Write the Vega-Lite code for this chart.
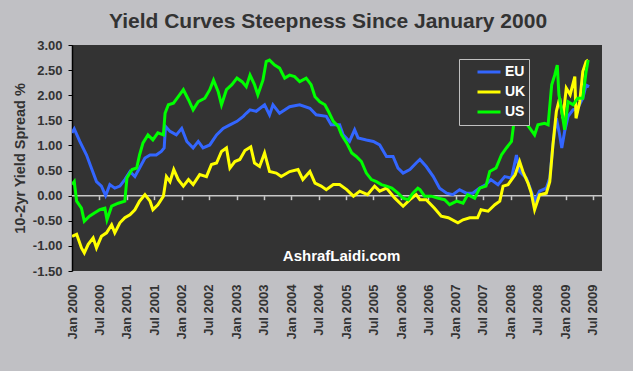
{
  "$schema": "https://vega.github.io/schema/vega-lite/v6.json",
  "width": 530,
  "height": 226,
  "autosize": {"type": "none"},
  "padding": {"left": 72, "top": 45, "right": 31, "bottom": 100},
  "background": "#c0c0c4",
  "config": {"font": "Liberation Sans", "view": {"fill": "#333333", "stroke": null}},
  "title": {"text": "Yield Curves Steepness Since January 2000", "fontSize": 21, "fontWeight": "bold", "color": "#333333", "offset": 7, "dx": -9, "anchor": "middle", "frame": "group"},
  "resolve": {"axis": {"x": "independent"}},
  "layer": [
    {
      "data": {"values": [{}]},
      "mark": {"type": "rule", "color": "#c8c8c8", "strokeWidth": 1.5},
      "encoding": {
        "y": {"datum": 0, "type": "quantitative", "title": "10-2yr Yield Spread %", "scale": {"domain": [-1.5, 3], "nice": false, "zero": false},
          "axis": {
            "values": [-1.5, -1, -0.5, 0, 0.5, 1, 1.5, 2, 2.5, 3],
            "labelExpr": "replace(format(datum.value, '.2f'), '−', '-')",
            "grid": false, "domainColor": "#000000", "domainWidth": 1.5, "tickColor": "#000000", "tickSize": 4, "labelOverlap": false,
            "labelPadding": 6, "labelFontSize": 13, "labelFontWeight": "bold", "labelColor": "#333333",
            "titleFontSize": 14.5, "titleFontWeight": "bold", "titleColor": "#333333", "titlePadding": 5
          }
        }
      }
    },
    {
      "data": {"values": [
        {"d":"2000-01-01","s":"EU","v":1.25},{"d":"2000-01-16","s":"EU","v":1.33},{"d":"2000-02-22","s":"EU","v":1.08},{"d":"2000-04-07","s":"EU","v":0.81},{"d":"2000-05-09","s":"EU","v":0.55},{"d":"2000-06-12","s":"EU","v":0.28},{"d":"2000-07-15","s":"EU","v":0.19},{"d":"2000-08-12","s":"EU","v":0.0},{"d":"2000-09-09","s":"EU","v":0.22},{"d":"2000-10-12","s":"EU","v":0.15},{"d":"2000-11-15","s":"EU","v":0.19},{"d":"2000-12-18","s":"EU","v":0.32},{"d":"2001-01-21","s":"EU","v":0.48},{"d":"2001-02-23","s":"EU","v":0.38},{"d":"2001-03-26","s":"EU","v":0.55},{"d":"2001-05-01","s":"EU","v":0.75},{"d":"2001-06-04","s":"EU","v":0.81},{"d":"2001-07-15","s":"EU","v":0.81},{"d":"2001-08-18","s":"EU","v":0.88},{"d":"2001-09-06","s":"EU","v":0.95},{"d":"2001-09-15","s":"EU","v":1.38},{"d":"2001-10-15","s":"EU","v":1.28},{"d":"2001-11-26","s":"EU","v":1.21},{"d":"2002-01-01","s":"EU","v":1.34},{"d":"2002-02-04","s":"EU","v":1.08},{"d":"2002-03-18","s":"EU","v":0.95},{"d":"2002-04-21","s":"EU","v":1.08},{"d":"2002-05-23","s":"EU","v":0.95},{"d":"2002-07-07","s":"EU","v":1.01},{"d":"2002-08-21","s":"EU","v":1.21},{"d":"2002-10-04","s":"EU","v":1.34},{"d":"2002-11-18","s":"EU","v":1.41},{"d":"2003-01-04","s":"EU","v":1.48},{"d":"2003-02-15","s":"EU","v":1.58},{"d":"2003-03-07","s":"EU","v":1.64},{"d":"2003-04-01","s":"EU","v":1.71},{"d":"2003-05-12","s":"EU","v":1.68},{"d":"2003-07-07","s":"EU","v":1.81},{"d":"2003-08-09","s":"EU","v":1.61},{"d":"2003-09-01","s":"EU","v":1.81},{"d":"2003-10-15","s":"EU","v":1.64},{"d":"2003-12-21","s":"EU","v":1.77},{"d":"2004-02-26","s":"EU","v":1.81},{"d":"2004-05-04","s":"EU","v":1.74},{"d":"2004-06-15","s":"EU","v":1.61},{"d":"2004-08-21","s":"EU","v":1.58},{"d":"2004-09-23","s":"EU","v":1.41},{"d":"2004-11-18","s":"EU","v":1.41},{"d":"2004-12-12","s":"EU","v":1.21},{"d":"2005-01-23","s":"EU","v":1.08},{"d":"2005-02-26","s":"EU","v":1.31},{"d":"2005-03-21","s":"EU","v":1.15},{"d":"2005-05-15","s":"EU","v":1.11},{"d":"2005-07-01","s":"EU","v":1.08},{"d":"2005-08-12","s":"EU","v":1.01},{"d":"2005-09-26","s":"EU","v":0.78},{"d":"2005-11-09","s":"EU","v":0.78},{"d":"2005-12-12","s":"EU","v":0.55},{"d":"2006-01-15","s":"EU","v":0.45},{"d":"2006-03-01","s":"EU","v":0.52},{"d":"2006-04-12","s":"EU","v":0.65},{"d":"2006-05-07","s":"EU","v":0.72},{"d":"2006-06-18","s":"EU","v":0.58},{"d":"2006-08-04","s":"EU","v":0.38},{"d":"2006-09-15","s":"EU","v":0.15},{"d":"2006-11-01","s":"EU","v":0.05},{"d":"2006-12-12","s":"EU","v":0.02},{"d":"2007-01-26","s":"EU","v":0.12},{"d":"2007-03-12","s":"EU","v":0.05},{"d":"2007-04-23","s":"EU","v":0.05},{"d":"2007-06-09","s":"EU","v":0.15},{"d":"2007-07-21","s":"EU","v":0.22},{"d":"2007-08-23","s":"EU","v":0.32},{"d":"2007-10-09","s":"EU","v":0.22},{"d":"2007-11-23","s":"EU","v":0.38},{"d":"2008-01-07","s":"EU","v":0.35},{"d":"2008-02-09","s":"EU","v":0.81},{"d":"2008-03-01","s":"EU","v":0.48},{"d":"2008-04-15","s":"EU","v":0.35},{"d":"2008-05-18","s":"EU","v":0.09},{"d":"2008-06-09","s":"EU","v":-0.11},{"d":"2008-07-12","s":"EU","v":0.09},{"d":"2008-08-26","s":"EU","v":0.15},{"d":"2008-09-18","s":"EU","v":0.35},{"d":"2008-10-09","s":"EU","v":1.01},{"d":"2008-11-01","s":"EU","v":1.54},{"d":"2008-11-23","s":"EU","v":1.21},{"d":"2008-12-07","s":"EU","v":0.95},{"d":"2008-12-26","s":"EU","v":1.28},{"d":"2009-01-18","s":"EU","v":1.58},{"d":"2009-02-20","s":"EU","v":1.71},{"d":"2009-03-23","s":"EU","v":1.74},{"d":"2009-04-26","s":"EU","v":1.94},{"d":"2009-05-18","s":"EU","v":2.2},{"d":"2009-06-07","s":"EU","v":2.17},
        {"d":"2000-01-01","s":"UK","v":-0.81},{"d":"2000-02-01","s":"UK","v":-0.77},{"d":"2000-03-04","s":"UK","v":-1.04},{"d":"2000-03-23","s":"UK","v":-1.14},{"d":"2000-04-18","s":"UK","v":-0.97},{"d":"2000-05-21","s":"UK","v":-0.84},{"d":"2000-06-12","s":"UK","v":-1.04},{"d":"2000-07-15","s":"UK","v":-0.81},{"d":"2000-08-18","s":"UK","v":-0.74},{"d":"2000-09-21","s":"UK","v":-0.58},{"d":"2000-10-12","s":"UK","v":-0.74},{"d":"2000-11-15","s":"UK","v":-0.54},{"d":"2000-12-18","s":"UK","v":-0.44},{"d":"2001-01-21","s":"UK","v":-0.38},{"d":"2001-02-23","s":"UK","v":-0.28},{"d":"2001-03-26","s":"UK","v":-0.11},{"d":"2001-05-01","s":"UK","v":0.02},{"d":"2001-06-04","s":"UK","v":-0.11},{"d":"2001-06-23","s":"UK","v":-0.28},{"d":"2001-07-26","s":"UK","v":-0.18},{"d":"2001-09-01","s":"UK","v":-0.01},{"d":"2001-09-21","s":"UK","v":0.38},{"d":"2001-10-15","s":"UK","v":0.28},{"d":"2001-11-09","s":"UK","v":0.52},{"d":"2001-12-09","s":"UK","v":0.32},{"d":"2002-01-12","s":"UK","v":0.19},{"d":"2002-02-15","s":"UK","v":0.32},{"d":"2002-03-18","s":"UK","v":0.22},{"d":"2002-05-01","s":"UK","v":0.42},{"d":"2002-06-15","s":"UK","v":0.38},{"d":"2002-07-18","s":"UK","v":0.62},{"d":"2002-08-21","s":"UK","v":0.65},{"d":"2002-09-23","s":"UK","v":0.88},{"d":"2002-10-26","s":"UK","v":0.95},{"d":"2002-11-18","s":"UK","v":0.55},{"d":"2002-12-21","s":"UK","v":0.68},{"d":"2003-01-23","s":"UK","v":0.72},{"d":"2003-02-26","s":"UK","v":0.9},{"d":"2003-04-06","s":"UK","v":0.97},{"d":"2003-05-01","s":"UK","v":0.65},{"d":"2003-06-04","s":"UK","v":0.58},{"d":"2003-07-07","s":"UK","v":0.85},{"d":"2003-08-09","s":"UK","v":0.48},{"d":"2003-09-23","s":"UK","v":0.45},{"d":"2003-10-26","s":"UK","v":0.38},{"d":"2003-12-21","s":"UK","v":0.48},{"d":"2004-02-15","s":"UK","v":0.52},{"d":"2004-03-18","s":"UK","v":0.32},{"d":"2004-05-04","s":"UK","v":0.48},{"d":"2004-06-07","s":"UK","v":0.25},{"d":"2004-07-18","s":"UK","v":0.19},{"d":"2004-08-21","s":"UK","v":0.12},{"d":"2004-10-07","s":"UK","v":0.22},{"d":"2004-11-18","s":"UK","v":0.22},{"d":"2005-01-04","s":"UK","v":0.12},{"d":"2005-02-18","s":"UK","v":-0.01},{"d":"2005-04-01","s":"UK","v":0.09},{"d":"2005-05-23","s":"UK","v":0.02},{"d":"2005-07-09","s":"UK","v":0.19},{"d":"2005-08-12","s":"UK","v":0.09},{"d":"2005-09-26","s":"UK","v":0.15},{"d":"2005-11-21","s":"UK","v":-0.05},{"d":"2006-01-15","s":"UK","v":-0.21},{"d":"2006-03-01","s":"UK","v":-0.08},{"d":"2006-04-12","s":"UK","v":0.02},{"d":"2006-05-07","s":"UK","v":-0.08},{"d":"2006-06-18","s":"UK","v":-0.08},{"d":"2006-08-12","s":"UK","v":-0.25},{"d":"2006-09-26","s":"UK","v":-0.41},{"d":"2006-11-12","s":"UK","v":-0.44},{"d":"2007-01-15","s":"UK","v":-0.54},{"d":"2007-02-18","s":"UK","v":-0.48},{"d":"2007-04-04","s":"UK","v":-0.44},{"d":"2007-05-26","s":"UK","v":-0.44},{"d":"2007-06-18","s":"UK","v":-0.28},{"d":"2007-08-04","s":"UK","v":-0.31},{"d":"2007-09-18","s":"UK","v":-0.18},{"d":"2007-10-21","s":"UK","v":-0.11},{"d":"2007-11-12","s":"UK","v":0.19},{"d":"2007-12-15","s":"UK","v":0.22},{"d":"2008-02-01","s":"UK","v":0.42},{"d":"2008-03-01","s":"UK","v":0.68},{"d":"2008-03-23","s":"UK","v":0.48},{"d":"2008-04-26","s":"UK","v":0.25},{"d":"2008-05-18","s":"UK","v":0.05},{"d":"2008-06-09","s":"UK","v":-0.28},{"d":"2008-07-12","s":"UK","v":0.02},{"d":"2008-08-26","s":"UK","v":0.05},{"d":"2008-09-18","s":"UK","v":0.28},{"d":"2008-10-09","s":"UK","v":1.01},{"d":"2008-11-01","s":"UK","v":1.68},{"d":"2008-11-23","s":"UK","v":1.94},{"d":"2008-12-15","s":"UK","v":1.54},{"d":"2009-01-06","s":"UK","v":2.14},{"d":"2009-02-01","s":"UK","v":2.01},{"d":"2009-03-04","s":"UK","v":2.37},{"d":"2009-03-12","s":"UK","v":1.54},{"d":"2009-04-06","s":"UK","v":1.87},{"d":"2009-04-26","s":"UK","v":2.47},{"d":"2009-05-18","s":"UK","v":2.67},{"d":"2009-06-01","s":"UK","v":2.7},
        {"d":"2000-01-01","s":"US","v":0.22},{"d":"2000-01-16","s":"US","v":0.28},{"d":"2000-02-01","s":"US","v":-0.11},{"d":"2000-03-04","s":"US","v":-0.25},{"d":"2000-03-23","s":"US","v":-0.51},{"d":"2000-04-26","s":"US","v":-0.41},{"d":"2000-06-01","s":"US","v":-0.34},{"d":"2000-07-04","s":"US","v":-0.28},{"d":"2000-08-07","s":"US","v":-0.25},{"d":"2000-08-21","s":"US","v":-0.48},{"d":"2000-09-21","s":"US","v":-0.21},{"d":"2000-11-04","s":"US","v":-0.15},{"d":"2000-12-18","s":"US","v":-0.11},{"d":"2001-01-01","s":"US","v":0.35},{"d":"2001-02-04","s":"US","v":0.52},{"d":"2001-03-07","s":"US","v":0.55},{"d":"2001-03-26","s":"US","v":0.81},{"d":"2001-04-18","s":"US","v":1.05},{"d":"2001-05-21","s":"US","v":1.21},{"d":"2001-06-23","s":"US","v":1.11},{"d":"2001-07-26","s":"US","v":1.25},{"d":"2001-09-01","s":"US","v":1.21},{"d":"2001-09-12","s":"US","v":1.64},{"d":"2001-10-04","s":"US","v":1.81},{"d":"2001-11-07","s":"US","v":1.84},{"d":"2001-12-09","s":"US","v":1.97},{"d":"2002-01-12","s":"US","v":2.11},{"d":"2002-02-15","s":"US","v":1.91},{"d":"2002-03-18","s":"US","v":1.71},{"d":"2002-04-21","s":"US","v":1.87},{"d":"2002-06-04","s":"US","v":1.94},{"d":"2002-07-07","s":"US","v":2.11},{"d":"2002-08-01","s":"US","v":2.3},{"d":"2002-09-01","s":"US","v":2.07},{"d":"2002-09-23","s":"US","v":1.81},{"d":"2002-10-26","s":"US","v":2.11},{"d":"2002-12-01","s":"US","v":2.21},{"d":"2003-01-04","s":"US","v":2.34},{"d":"2003-02-07","s":"US","v":2.27},{"d":"2003-03-07","s":"US","v":2.17},{"d":"2003-04-01","s":"US","v":2.4},{"d":"2003-05-01","s":"US","v":2.21},{"d":"2003-05-23","s":"US","v":2.01},{"d":"2003-06-26","s":"US","v":2.3},{"d":"2003-07-18","s":"US","v":2.67},{"d":"2003-08-09","s":"US","v":2.7},{"d":"2003-09-12","s":"US","v":2.6},{"d":"2003-10-15","s":"US","v":2.54},{"d":"2003-11-18","s":"US","v":2.34},{"d":"2003-12-21","s":"US","v":2.4},{"d":"2004-01-23","s":"US","v":2.37},{"d":"2004-02-26","s":"US","v":2.27},{"d":"2004-04-09","s":"US","v":2.34},{"d":"2004-05-12","s":"US","v":2.21},{"d":"2004-06-07","s":"US","v":1.97},{"d":"2004-07-09","s":"US","v":1.87},{"d":"2004-08-12","s":"US","v":1.81},{"d":"2004-09-04","s":"US","v":1.68},{"d":"2004-10-07","s":"US","v":1.48},{"d":"2004-11-09","s":"US","v":1.38},{"d":"2004-12-01","s":"US","v":1.21},{"d":"2005-01-04","s":"US","v":1.05},{"d":"2005-02-07","s":"US","v":0.85},{"d":"2005-03-09","s":"US","v":0.78},{"d":"2005-04-12","s":"US","v":0.68},{"d":"2005-05-15","s":"US","v":0.45},{"d":"2005-06-18","s":"US","v":0.32},{"d":"2005-07-21","s":"US","v":0.28},{"d":"2005-08-23","s":"US","v":0.22},{"d":"2005-09-26","s":"US","v":0.19},{"d":"2005-11-01","s":"US","v":0.15},{"d":"2005-12-12","s":"US","v":0.05},{"d":"2006-01-15","s":"US","v":-0.05},{"d":"2006-02-18","s":"US","v":-0.08},{"d":"2006-03-21","s":"US","v":0.05},{"d":"2006-04-23","s":"US","v":0.15},{"d":"2006-05-07","s":"US","v":0.12},{"d":"2006-06-07","s":"US","v":-0.01},{"d":"2006-07-21","s":"US","v":-0.01},{"d":"2006-09-07","s":"US","v":-0.05},{"d":"2006-10-18","s":"US","v":-0.08},{"d":"2006-11-21","s":"US","v":-0.18},{"d":"2007-01-07","s":"US","v":-0.11},{"d":"2007-02-18","s":"US","v":-0.15},{"d":"2007-03-21","s":"US","v":0.02},{"d":"2007-05-07","s":"US","v":-0.05},{"d":"2007-06-09","s":"US","v":0.15},{"d":"2007-07-21","s":"US","v":0.19},{"d":"2007-08-15","s":"US","v":0.48},{"d":"2007-09-26","s":"US","v":0.55},{"d":"2007-11-01","s":"US","v":0.81},{"d":"2007-12-04","s":"US","v":0.95},{"d":"2008-01-07","s":"US","v":1.08},{"d":"2008-01-21","s":"US","v":1.41},{"d":"2008-02-15","s":"US","v":1.6},{"d":"2008-03-15","s":"US","v":1.75},{"d":"2008-04-15","s":"US","v":1.44},{"d":"2008-06-09","s":"US","v":1.21},{"d":"2008-07-01","s":"US","v":1.41},{"d":"2008-08-15","s":"US","v":1.44},{"d":"2008-09-07","s":"US","v":1.41},{"d":"2008-10-01","s":"US","v":2.21},{"d":"2008-10-21","s":"US","v":2.4},{"d":"2008-11-07","s":"US","v":2.6},{"d":"2008-11-18","s":"US","v":2.01},{"d":"2008-12-07","s":"US","v":1.68},{"d":"2008-12-26","s":"US","v":1.31},{"d":"2009-01-18","s":"US","v":1.87},{"d":"2009-02-20","s":"US","v":1.81},{"d":"2009-03-23","s":"US","v":1.94},{"d":"2009-04-26","s":"US","v":1.94},{"d":"2009-05-18","s":"US","v":2.47},{"d":"2009-06-01","s":"US","v":2.7}
      ]},
      "mark": {"type": "line", "strokeWidth": 3, "clip": true},
      "encoding": {
        "x": {
          "field": "d", "type": "temporal",
          "scale": {"domain": [{"year": 2000, "month": 1, "date": 1}, {"year": 2009, "month": 9, "date": 1}]},
          "axis": {
            "orient": "bottom", "title": null, "domain": false, "ticks": false, "grid": false,
            "format": "%b %Y", "labelAngle": 270, "labelAlign": "right", "labelBaseline": "middle",
            "labelPadding": 13, "labelFontSize": 13, "labelFontWeight": "bold", "labelColor": "#333333",
            "labelOverlap": false, "labelBound": false, "labelFlush": false,
            "values": [
              {"year": 2000, "month": 1, "date": 1}, {"year": 2000, "month": 7, "date": 1},
              {"year": 2001, "month": 1, "date": 1}, {"year": 2001, "month": 7, "date": 1},
              {"year": 2002, "month": 1, "date": 1}, {"year": 2002, "month": 7, "date": 1},
              {"year": 2003, "month": 1, "date": 1}, {"year": 2003, "month": 7, "date": 1},
              {"year": 2004, "month": 1, "date": 1}, {"year": 2004, "month": 7, "date": 1},
              {"year": 2005, "month": 1, "date": 1}, {"year": 2005, "month": 7, "date": 1},
              {"year": 2006, "month": 1, "date": 1}, {"year": 2006, "month": 7, "date": 1},
              {"year": 2007, "month": 1, "date": 1}, {"year": 2007, "month": 7, "date": 1},
              {"year": 2008, "month": 1, "date": 1}, {"year": 2008, "month": 7, "date": 1},
              {"year": 2009, "month": 1, "date": 1}, {"year": 2009, "month": 7, "date": 1}
            ]
          }
        },
        "y": {
          "field": "v", "type": "quantitative", "title": "10-2yr Yield Spread %",
          "scale": {"domain": [-1.5, 3], "nice": false, "zero": false},
          "axis": {
            "values": [-1.5, -1, -0.5, 0, 0.5, 1, 1.5, 2, 2.5, 3],
            "labelExpr": "replace(format(datum.value, '.2f'), '−', '-')",
            "grid": false, "domainColor": "#000000", "domainWidth": 1.5, "tickColor": "#000000", "tickSize": 4, "labelOverlap": false,
            "labelPadding": 6, "labelFontSize": 13, "labelFontWeight": "bold", "labelColor": "#333333",
            "titleFontSize": 14.5, "titleFontWeight": "bold", "titleColor": "#333333", "titlePadding": 5
          }
        },
        "color": {
          "field": "s", "type": "nominal",
          "scale": {"domain": ["EU", "UK", "US"], "range": ["#3366ff", "#ffff00", "#00ff00"]},
          "legend": {
            "title": null, "orient": "none", "legendX": 387, "legendY": 14,
            "fillColor": "#333333", "strokeColor": "#c0c0c0", "padding": 3,
            "symbolType": "stroke", "symbolStrokeWidth": 3, "symbolSize": 529, "symbolOffset": 14,
            "clipHeight": 20, "rowPadding": 0,
            "labelColor": "#ffffff", "labelFontSize": 14, "labelFontWeight": "bold", "labelOffset": 3,
            "labelExpr": "datum.label + '\u00a0\u00a0\u00a0'"
          }
        }
      }
    },
    {
      "data": {"values": [{}]},
      "mark": {"type": "text", "color": "#ffffff", "fontSize": 15, "fontWeight": "bold", "align": "center", "baseline": "middle", "text": "AshrafLaidi.com"},
      "encoding": {
        "x": {
          "datum": {"year": 2004, "month": 12, "date": 1}, "type": "temporal",
          "axis": {
            "orient": "bottom", "offset": -75.33, "title": null, "labels": false, "domain": false, "grid": false,
            "ticks": true, "tickColor": "#c8c8c8", "tickSize": 4, "tickWidth": 1.5,
            "values": [
              {"year": 2000, "month": 7, "date": 1},
              {"year": 2001, "month": 1, "date": 1}, {"year": 2001, "month": 7, "date": 1},
              {"year": 2002, "month": 1, "date": 1}, {"year": 2002, "month": 7, "date": 1},
              {"year": 2003, "month": 1, "date": 1}, {"year": 2003, "month": 7, "date": 1},
              {"year": 2004, "month": 1, "date": 1}, {"year": 2004, "month": 7, "date": 1},
              {"year": 2005, "month": 1, "date": 1}, {"year": 2005, "month": 7, "date": 1},
              {"year": 2006, "month": 1, "date": 1}, {"year": 2006, "month": 7, "date": 1},
              {"year": 2007, "month": 1, "date": 1}, {"year": 2007, "month": 7, "date": 1},
              {"year": 2008, "month": 1, "date": 1}, {"year": 2008, "month": 7, "date": 1},
              {"year": 2009, "month": 1, "date": 1}, {"year": 2009, "month": 7, "date": 1}
            ]
          }
        },
        "y": {"datum": -1.21, "type": "quantitative", "title": "10-2yr Yield Spread %",
          "axis": {
            "values": [-1.5, -1, -0.5, 0, 0.5, 1, 1.5, 2, 2.5, 3],
            "labelExpr": "replace(format(datum.value, '.2f'), '−', '-')",
            "grid": false, "domainColor": "#000000", "domainWidth": 1.5, "tickColor": "#000000", "tickSize": 4, "labelOverlap": false,
            "labelPadding": 6, "labelFontSize": 13, "labelFontWeight": "bold", "labelColor": "#333333",
            "titleFontSize": 14.5, "titleFontWeight": "bold", "titleColor": "#333333", "titlePadding": 5
          }
        }
      }
    }
  ]
}
